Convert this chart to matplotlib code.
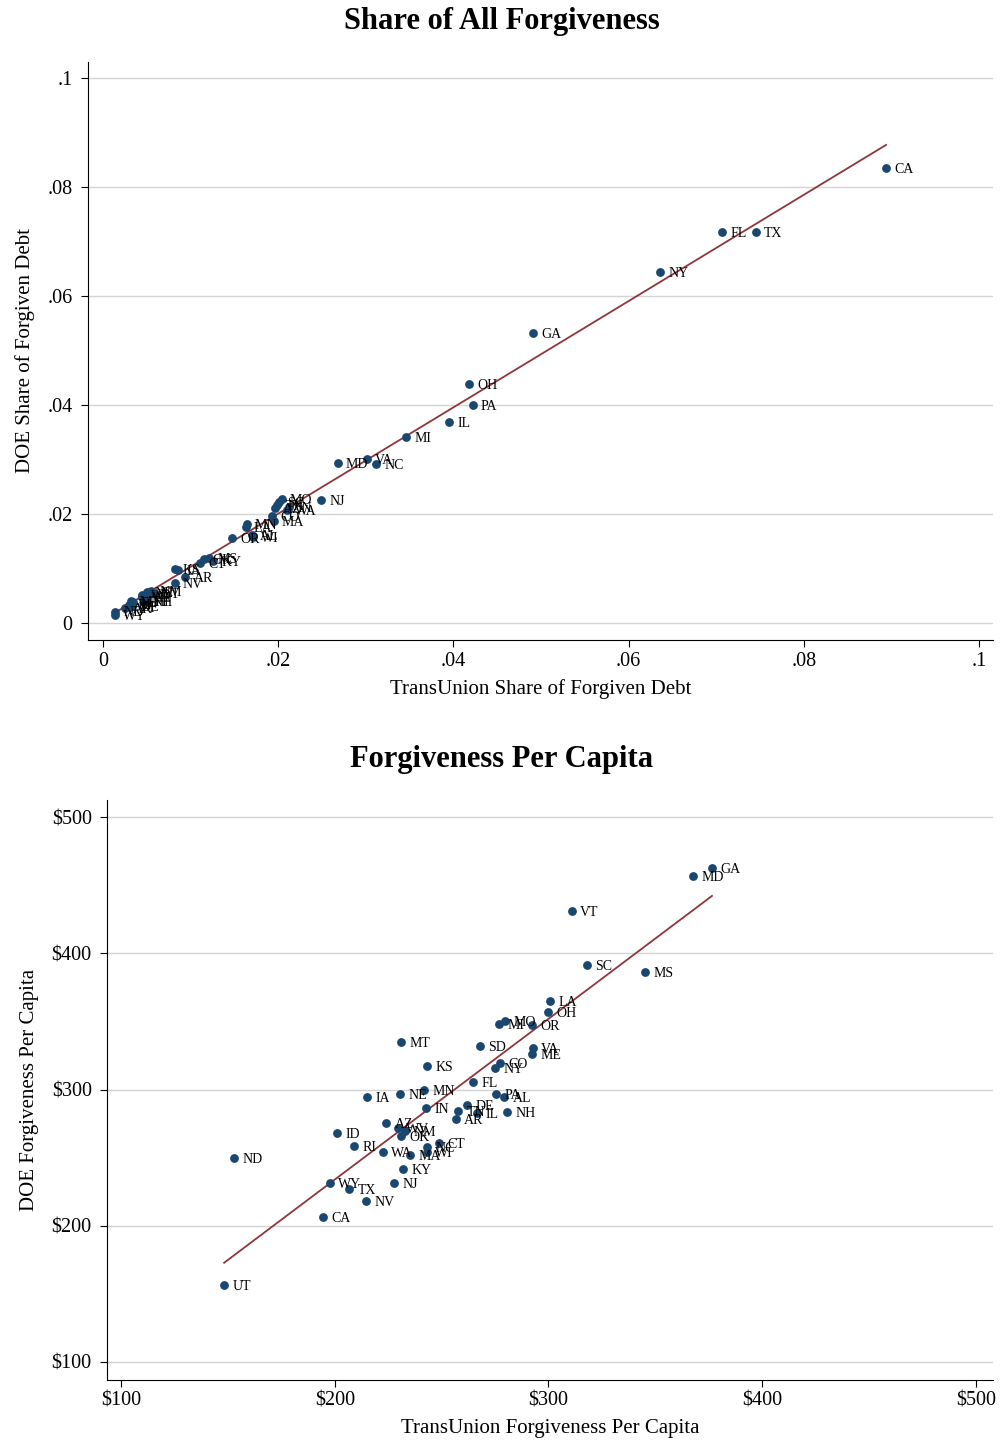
import numpy as np
import matplotlib
matplotlib.use("Agg")
import matplotlib.pyplot as plt
from matplotlib.ticker import FuncFormatter

plt.rcParams["font.family"] = ["Liberation Serif", "DejaVu Serif"]

# Share of all forgiveness: (TransUnion share, DOE share)
share_states = ["CA", "TX", "FL", "NY", "GA", "OH", "PA", "IL", "MI", "MD",
                "VA", "NC", "NJ", "MO", "SC", "TN", "AZ", "IN", "WA", "CO",
                "MA", "MN", "LA", "AL", "WI", "OR", "MS", "KY", "OK", "CT",
                "IA", "KS", "AR", "NV", "UT", "NM", "NE", "WV", "ID", "HI",
                "NH", "ME", "MT", "SD", "DE", "RI", "VT", "AK", "ND", "WY"]
share_tu = [0.0894, 0.0745, 0.0707, 0.0636, 0.0491, 0.0418, 0.0422, 0.0395, 0.0346, 0.0268,
            0.0301, 0.0312, 0.0249, 0.0204, 0.0201, 0.0199, 0.0196, 0.0213, 0.0210, 0.0193,
            0.0195, 0.0164, 0.0163, 0.0170, 0.0171, 0.0147, 0.0121, 0.0126, 0.0116, 0.0111,
            0.0086, 0.0082, 0.0094, 0.0082, 0.0058, 0.0055, 0.0050, 0.0045, 0.0052, 0.0049,
            0.0047, 0.0045, 0.0032, 0.0034, 0.0033, 0.0030, 0.0031, 0.0025, 0.0014, 0.0014]
share_doe = [0.0835, 0.0717, 0.0717, 0.0644, 0.0532, 0.0439, 0.0400, 0.0369, 0.0341, 0.0294,
             0.0301, 0.0292, 0.0226, 0.0228, 0.0222, 0.0217, 0.0211, 0.0213, 0.0207, 0.0196,
             0.0187, 0.0182, 0.0176, 0.0161, 0.0158, 0.0156, 0.0119, 0.0114, 0.0117, 0.0110,
             0.0097, 0.0099, 0.0084, 0.0073, 0.0055, 0.0058, 0.0057, 0.0052, 0.0054, 0.0041,
             0.0040, 0.0047, 0.0040, 0.0038, 0.0031, 0.0034, 0.0030, 0.0027, 0.0021, 0.0015]

# Forgiveness per capita: (TransUnion $, DOE $)
pc_states = ["GA", "MD", "VT", "SC", "MS", "LA", "OH", "MO", "MI", "OR",
             "MT", "SD", "VA", "ME", "KS", "CO", "NY", "FL", "MN", "IA",
             "NE", "PA", "AL", "IN", "DE", "TN", "IL", "NH", "AR", "AZ",
             "WV", "NM", "OK", "ID", "RI", "WA", "MA", "NC", "WI", "CT",
             "KY", "NJ", "WY", "TX", "NV", "CA", "ND", "UT"]
pc_tu = [376.5, 367.6, 311.0, 318.0, 345.1, 300.7, 299.8, 279.6, 276.8, 292.3,
         231.0, 268.0, 292.7, 292.3, 243.2, 277.3, 275.0, 264.7, 241.8, 215.1,
         230.5, 275.4, 279.2, 242.7, 261.9, 257.7, 266.5, 280.6, 256.7, 224.0,
         229.6, 232.9, 231.0, 201.0, 209.0, 222.6, 235.2, 243.2, 243.2, 248.8,
         231.9, 227.7, 197.8, 206.7, 214.6, 194.5, 152.9, 148.2]
pc_doe = [462.6, 456.7, 431.0, 391.4, 386.2, 365.0, 356.9, 350.3, 348.0, 347.3,
          334.9, 332.0, 330.5, 326.0, 317.2, 319.4, 315.8, 305.5, 299.6, 294.5,
          296.7, 296.7, 294.5, 286.4, 288.6, 284.2, 282.8, 283.5, 278.3, 275.4,
          271.7, 269.5, 265.8, 268.0, 258.5, 254.1, 251.9, 257.8, 254.1, 260.7,
          241.7, 231.4, 231.4, 227.0, 218.2, 206.4, 249.7, 156.5]

NAVY = "#1a476f"
MAROON = "#90353b"


def scatter_panel(ax, x, y, labels):
    x = np.asarray(x)
    y = np.asarray(y)
    ax.scatter(x, y, s=40, color=NAVY, zorder=3, linewidths=0)
    for xi, yi, lab in zip(x, y, labels):
        ax.annotate(lab, (xi, yi), xytext=(6, -1), textcoords="offset points",
                    fontsize=10, va="center", ha="left", zorder=4)
    # linear fit over the observed range
    b, a = np.polyfit(x, y, 1)
    xs = np.array([x.min(), x.max()])
    ax.plot(xs, a + b * xs, color=MAROON, lw=1.3, zorder=2)

    ax.grid(axis="y", color="#d4d4d4", lw=1)
    ax.set_axisbelow(True)
    for side in ("top", "right"):
        ax.spines[side].set_visible(False)
    ax.tick_params(labelsize=14.5, length=5, direction="out")
    ax.tick_params(axis="y", pad=6)


fig = plt.figure(figsize=(10.03, 14.40), dpi=100)

# top panel
ax1 = fig.add_axes([0.0877, 0.5556, 0.9023, 0.4014])
scatter_panel(ax1, share_tu, share_doe, share_states)
ax1.set_xlim(-0.0017, 0.1016)
ax1.set_ylim(-0.0031, 0.103)
ticks = [0, 0.02, 0.04, 0.06, 0.08, 0.1]
shr = FuncFormatter(lambda v, p: "0" if v == 0 else f"{v:g}".lstrip("0"))
ax1.set_xticks(ticks)
ax1.set_yticks(ticks)
ax1.xaxis.set_major_formatter(shr)
ax1.yaxis.set_major_formatter(shr)
ax1.set_xlabel("TransUnion Share of Forgiven Debt", fontsize=15, labelpad=6)
ax1.set_ylabel("DOE Share of Forgiven Debt", fontsize=15, labelpad=9)
fig.text(0.5, 0.985, "Share of All Forgiveness", ha="center", va="center",
         fontsize=22, fontweight="bold")

# bottom panel
ax2 = fig.add_axes([0.1067, 0.0417, 0.8833, 0.4027])
scatter_panel(ax2, pc_tu, pc_doe, pc_states)
ax2.set_xlim(93.4, 508)
ax2.set_ylim(86.8, 512.5)
dticks = [100, 200, 300, 400, 500]
dol = FuncFormatter(lambda v, p: f"${v:.0f}")
ax2.set_xticks(dticks)
ax2.set_yticks(dticks)
ax2.xaxis.set_major_formatter(dol)
ax2.yaxis.set_major_formatter(dol)
ax2.set_xlabel("TransUnion Forgiveness Per Capita", fontsize=15, labelpad=6)
ax2.set_ylabel("DOE Forgiveness Per Capita", fontsize=15, labelpad=9)
fig.text(0.5, 0.4725, "Forgiveness Per Capita", ha="center", va="center",
         fontsize=22, fontweight="bold")

fig.savefig("out.png", dpi=100)
plt.close(fig)
